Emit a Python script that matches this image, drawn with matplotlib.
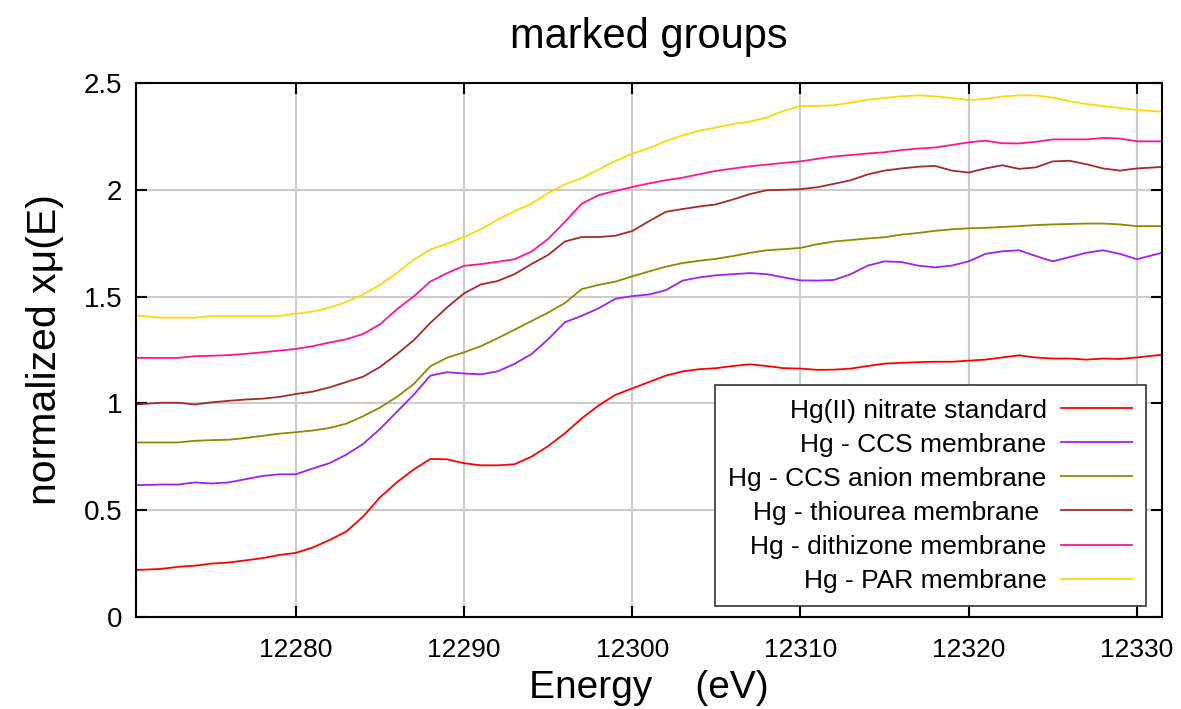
import matplotlib; matplotlib.use("Agg"); import matplotlib.pyplot as plt
from matplotlib.ticker import MultipleLocator

plt.rcParams['font.family'] = ['Liberation Sans', 'DejaVu Sans']

# energy grid (eV)
energy = [12270.5, 12272, 12273, 12274, 12275, 12276, 12277, 12278, 12279, 12280,
          12281, 12282, 12283, 12284, 12285, 12286, 12287, 12288, 12289, 12290,
          12291, 12292, 12293, 12294, 12295, 12296, 12297, 12298, 12299, 12300,
          12301, 12302, 12303, 12304, 12305, 12306, 12307, 12308, 12309, 12310,
          12311, 12312, 12313, 12314, 12315, 12316, 12317, 12318, 12319, 12320,
          12321, 12322, 12323, 12324, 12325, 12326, 12327, 12328, 12329, 12330, 12331.5]

nitrate = [0.22, 0.225, 0.235, 0.24, 0.25, 0.255, 0.265, 0.275, 0.29, 0.30,
           0.325, 0.36, 0.40, 0.47, 0.56, 0.63, 0.69, 0.74, 0.738, 0.72,
           0.71, 0.71, 0.715, 0.75, 0.80, 0.86, 0.93, 0.99, 1.04, 1.07,
           1.10, 1.13, 1.15, 1.16, 1.165, 1.175, 1.183, 1.175, 1.165, 1.163,
           1.157, 1.158, 1.163, 1.175, 1.186, 1.19, 1.193, 1.195, 1.195, 1.20,
           1.205, 1.215, 1.225, 1.215, 1.21, 1.21, 1.205, 1.21, 1.208, 1.215, 1.228]

ccs = [0.617, 0.62, 0.62, 0.63, 0.625, 0.63, 0.645, 0.66, 0.668, 0.668,
       0.695, 0.72, 0.76, 0.81, 0.88, 0.96, 1.04, 1.13, 1.146, 1.14,
       1.136, 1.15, 1.185, 1.23, 1.30, 1.38, 1.41, 1.445, 1.49, 1.502,
       1.51, 1.53, 1.575, 1.59, 1.60, 1.605, 1.61, 1.605, 1.59, 1.576,
       1.575, 1.578, 1.605, 1.645, 1.665, 1.662, 1.645, 1.637, 1.645, 1.665,
       1.70, 1.712, 1.717, 1.69, 1.665, 1.685, 1.705, 1.717, 1.70, 1.675, 1.705]

ccs_anion = [0.817, 0.817, 0.817, 0.825, 0.828, 0.83, 0.838, 0.848, 0.858, 0.865,
             0.873, 0.885, 0.905, 0.94, 0.98, 1.03, 1.09, 1.174, 1.214, 1.239,
             1.268, 1.305, 1.345, 1.385, 1.425, 1.47, 1.535, 1.555, 1.57, 1.595,
             1.618, 1.64, 1.657, 1.668, 1.677, 1.69, 1.705, 1.717, 1.722, 1.728,
             1.745, 1.758, 1.765, 1.772, 1.778, 1.79, 1.798, 1.808, 1.815, 1.82,
             1.822, 1.826, 1.83, 1.835, 1.838, 1.84, 1.842, 1.842, 1.838, 1.83, 1.83]

thiourea = [0.995, 1.003, 1.003, 0.995, 1.005, 1.012, 1.018, 1.022, 1.03, 1.044,
            1.055, 1.075, 1.10, 1.125, 1.17, 1.23, 1.295, 1.377, 1.45, 1.515,
            1.557, 1.573, 1.605, 1.652, 1.695, 1.758, 1.779, 1.779, 1.785, 1.807,
            1.853, 1.897, 1.91, 1.922, 1.932, 1.955, 1.98, 1.998, 2.0, 2.003,
            2.012, 2.028, 2.045, 2.072, 2.09, 2.10, 2.108, 2.112, 2.09, 2.081,
            2.10, 2.115, 2.098, 2.105, 2.133, 2.136, 2.12, 2.10, 2.09, 2.10, 2.107]

dithizone = [1.213, 1.213, 1.213, 1.221, 1.223, 1.226, 1.232, 1.239, 1.247, 1.255,
             1.268, 1.285, 1.30, 1.325, 1.37, 1.44, 1.50, 1.571, 1.61, 1.644,
             1.652, 1.663, 1.675, 1.71, 1.77, 1.85, 1.935, 1.975, 1.995, 2.013,
             2.03, 2.045, 2.057, 2.073, 2.089, 2.10, 2.11, 2.118, 2.126, 2.133,
             2.145, 2.156, 2.163, 2.17, 2.176, 2.186, 2.193, 2.198, 2.21, 2.222,
             2.23, 2.218, 2.217, 2.225, 2.236, 2.236, 2.236, 2.243, 2.24, 2.227, 2.227]

par = [1.412, 1.401, 1.401, 1.401, 1.409, 1.409, 1.409, 1.409, 1.409, 1.42,
       1.43, 1.448, 1.475, 1.51, 1.555, 1.61, 1.672, 1.72, 1.748, 1.779,
       1.815, 1.86, 1.90, 1.935, 1.985, 2.025, 2.055, 2.095, 2.135, 2.169,
       2.195, 2.228, 2.255, 2.277, 2.292, 2.308, 2.32, 2.338, 2.37, 2.392,
       2.393, 2.396, 2.408, 2.422, 2.43, 2.438, 2.442, 2.438, 2.43, 2.421,
       2.425, 2.437, 2.442, 2.442, 2.432, 2.415, 2.402, 2.392, 2.383, 2.374, 2.365]

labels = ["Hg(II) nitrate standard", "Hg - CCS membrane", "Hg - CCS anion membrane",
          "Hg - thiourea membrane ", "Hg - dithizone membrane", "Hg - PAR membrane"]
colors = ["#ff0000", "#a020f0", "#8b8b00", "#a52a2a", "#ff1493", "#ffd700"]
series = [nitrate, ccs, ccs_anion, thiourea, dithizone, par]

fig = plt.figure(figsize=(11.81, 7.09), dpi=100)
ax = fig.add_axes([0.1152, 0.1298, 0.8687, 0.7531])

for y, lab, c in zip(series, labels, colors):
    ax.plot(energy, y, color=c, lw=1.3, label=lab)

ax.set_xlim(12270.5, 12331.5)
ax.set_ylim(0, 2.5)
ax.xaxis.set_major_locator(MultipleLocator(10))
ax.yaxis.set_major_locator(MultipleLocator(0.5))
ax.yaxis.set_major_formatter(plt.FuncFormatter(lambda v, p: "%g" % v))
ax.grid(True, color="#cccccc", lw=1.5)
ax.set_axisbelow(True)
ax.tick_params(direction="in", top=True, right=True, length=8, width=1.5)
ax.tick_params(axis="y", pad=10, labelsize=20)
ax.tick_params(axis="x", pad=15, labelsize=19)
for s in ax.spines.values():
    s.set_linewidth(1.5)

ax.set_title("marked groups", fontsize=30, pad=25)
ax.set_xlabel("Energy    (eV)", fontsize=28, labelpad=6)
ax.set_ylabel("normalized x\u03bc(E)", fontsize=29.5, labelpad=14)

leg = ax.legend(loc="lower right", bbox_to_anchor=(0.984, 0.0206), borderaxespad=0,
                markerfirst=False, fontsize=19, handlelength=2.7, handletextpad=0.55,
                labelspacing=0.38, borderpad=0.5, fancybox=False, framealpha=1,
                edgecolor="#333333")
leg.get_frame().set_linewidth(1.2)
leg._legend_handle_box.get_children()[0].align = "right"

fig.savefig("out.png", dpi=100)
